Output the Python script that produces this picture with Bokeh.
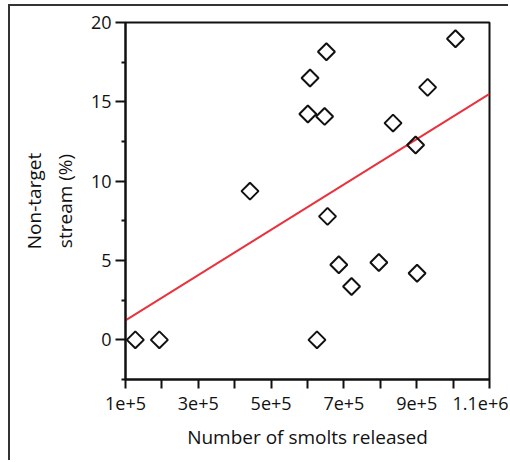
import numpy as np
from bokeh.plotting import figure
from bokeh.models import FixedTicker, Range1d
from bokeh.embed import file_html
from bokeh.resources import INLINE

# data
smolts = [1.27e5, 1.93e5, 6.26e5, 4.42e5, 6.52e5, 6.07e5, 6.01e5, 6.47e5, 8.35e5,
          9.30e5, 1.0065e6, 8.97e5, 6.55e5, 6.86e5, 7.96e5, 7.21e5, 9.01e5]
nontarget = [0.0, 0.0, 0.0, 9.37, 18.16, 16.5, 14.23, 14.08, 13.66,
             15.91, 18.98, 12.28, 7.78, 4.73, 4.87, 3.36, 4.2]

x_ticks = [100000, 300000, 500000, 700000, 900000, 1100000]
x_tick_labels = ["1e+5", "3e+5", "5e+5", "7e+5", "9e+5", "1.1e+6"]
x_minor_ticks = [200000, 400000, 600000, 800000, 1000000]
y_ticks = [0, 5, 10, 15, 20]
y_minor_ticks = [-2.5, 2.5, 7.5, 12.5, 17.5]
x_limits = [100000, 1100000]
y_limits = [-2.5, 20]

FONT = "Open Sans"
INK = "#111111"

p = figure(width=500, height=456, output_backend="svg", toolbar_location=None,
           x_range=Range1d(*x_limits), y_range=Range1d(*y_limits),
           min_border_left=115, min_border_right=21, min_border_top=16,
           min_border_bottom=83)
p.styles = {"border-left": "2px solid #333333", "border-top": "2px solid #333333",
            "margin-left": "8px", "margin-top": "4px"}
p.xgrid.visible = False
p.ygrid.visible = False
p.outline_line_color = INK
p.outline_line_width = 2
p.outline_line_alpha = 1

# regression line (least squares fit of the points)
slope, intercept = np.polyfit(np.array(smolts), np.array(nontarget), 1)
fit_x = np.array(x_limits, dtype=float)
fit_y = intercept + slope * fit_x
p.line(fit_x, fit_y, line_color="#e8323c", line_width=2)

p.scatter(smolts, nontarget, marker="square", angle=np.pi / 4, size=12,
          fill_color=None, line_color=INK, line_width=2)

xa = p.xaxis[0]
xa.ticker = FixedTicker(ticks=x_ticks, minor_ticks=x_minor_ticks)
xa.major_label_overrides = {t: l for t, l in zip(x_ticks, x_tick_labels)}
xa.axis_label = "Number of smolts released"
xa.major_tick_out = 9
xa.minor_tick_out = 9
xa.major_tick_in = 0
xa.minor_tick_in = 0
xa.major_label_standoff = 8
xa.axis_label_standoff = 11

ya = p.yaxis[0]
ya.ticker = FixedTicker(ticks=y_ticks, minor_ticks=y_minor_ticks)
ya.axis_label = "Non-target\nstream (%)"
ya.major_tick_out = 10
ya.minor_tick_out = 4
ya.major_tick_in = 0
ya.minor_tick_in = 0
ya.major_label_standoff = 4
ya.axis_label_standoff = 10

for ax in (xa, ya):
    ax.axis_line_width = 2
    ax.axis_line_color = INK
    ax.major_tick_line_width = 2
    ax.minor_tick_line_width = 2
    ax.major_tick_line_color = INK
    ax.minor_tick_line_color = INK
    ax.major_label_text_font = FONT
    ax.major_label_text_font_size = "18px"
    ax.major_label_text_color = INK
    ax.axis_label_text_font = FONT
    ax.axis_label_text_font_size = "19px"
    ax.axis_label_text_font_style = "normal"
    ax.axis_label_text_color = INK

open("out.html", "w").write(file_html(p, INLINE))
